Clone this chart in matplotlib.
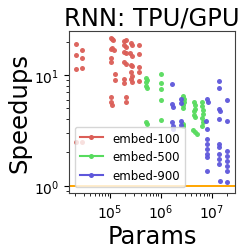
import matplotlib
matplotlib.use("Agg")
import matplotlib.pyplot as plt
from matplotlib.lines import Line2D

title = "RNN: TPU/GPU"
xlabel = "Params"
ylabel = "Speedups"
series_names = ["embed-100", "embed-500", "embed-900"]
colors = [(0.86, 0.37, 0.34), (0.34, 0.86, 0.37), (0.37, 0.34, 0.86)]

# embed-100
e100_x = [2.14e4, 2.14e4, 2.14e4, 2.14e4, 2.77e4, 2.77e4, 2.77e4, 2.77e4,
          1.03e5, 1.10e5, 1.16e5, 1.03e5, 1.10e5, 1.20e5, 1.03e5, 1.06e5, 1.25e5, 1.25e5,
          1.03e5, 1.06e5, 1.10e5,
          1.89e5, 2.07e5, 1.89e5, 2.07e5, 1.89e5, 2.07e5, 1.89e5, 2.07e5, 1.89e5, 1.89e5, 2.07e5, 2.07e5,
          2.55e5, 2.75e5, 2.50e5, 2.75e5, 2.55e5, 2.75e5, 2.55e5, 2.75e5, 2.55e5, 2.65e5,
          3.67e5, 3.67e5, 3.67e5, 3.67e5, 3.67e5]
e100_y = [19.0, 15.3, 11.3, 2.47, 16.9, 14.2, 11.7, 2.47,
          21.5, 21.2, 20.6, 17.2, 17.4, 16.9, 14.2, 13.2, 10.2, 9.0,
          6.4, 5.7, 5.35,
          20.4, 20.8, 18.8, 17.8, 16.0, 15.8, 13.0, 12.7, 9.2, 8.5, 6.3, 5.7,
          19.5, 18.5, 15.8, 14.9, 12.4, 12.0, 10.7, 9.8, 9.3, 8.6,
          18.5, 15.5, 11.8, 10.6, 8.8]

# embed-500
e500_x = [5.1e5, 5.4e5, 5.1e5, 5.4e5, 5.1e5, 5.1e5, 5.4e5,
          9.96e5, 9.96e5, 9.96e5, 9.96e5, 9.96e5,
          2.75e6, 2.85e6, 2.9e6, 2.8e6, 2.75e6, 2.7e6, 2.75e6,
          4.5e6, 4.7e6, 4.8e6, 4.6e6, 4.5e6, 4.7e6, 4.4e6, 4.7e6, 5.1e6,
          6.4e6, 6.6e6, 6.7e6, 6.8e6, 6.6e6, 6.7e6, 6.6e6]
e500_y = [9.5, 9.1, 8.0, 7.6, 8.6, 3.74, 3.61,
          10.2, 8.4, 7.5, 6.0, 3.95,
          6.45, 6.05, 5.7, 5.35, 5.03, 3.6, 3.45,
          5.7, 5.35, 4.93, 4.7, 4.35, 4.17, 3.18, 3.05, 2.93,
          5.7, 5.25, 4.83, 4.44, 4.1, 3.74, 3.45]

# embed-900
e900_x = [1.64e6, 1.64e6, 1.7e6, 1.64e6, 1.7e6, 1.75e6,
          2.45e6, 2.5e6, 2.45e6, 2.55e6,
          8.3e6, 8.6e6, 7.8e6, 8.0e6, 8.1e6, 8.1e6, 8.0e6, 8.2e6, 8.0e6, 8.1e6,
          1.38e7, 1.38e7, 1.40e7, 1.44e7, 1.42e7, 1.38e7, 1.42e7, 1.40e7, 1.42e7, 1.40e7, 1.44e7,
          2.0e7, 2.0e7, 2.0e7, 2.0e7, 2.05e7, 2.0e7, 2.0e7, 2.0e7]
e900_y = [8.3, 5.47, 5.13, 3.76, 3.46, 3.25,
          6.07, 5.6, 3.84, 3.53,
          6.07, 5.7, 3.84, 3.25, 2.64, 2.38, 2.14, 1.93, 1.82, 1.36,
          8.9, 7.6, 4.93, 4.73, 4.0, 2.38, 2.24, 1.93, 1.74, 1.57, 1.10,
          5.89, 3.88, 2.06, 1.86, 1.67, 1.51, 1.36, 1.09]

xs = [e100_x, e500_x, e900_x]
ys = [e100_y, e500_y, e900_y]

fig = plt.figure(figsize=(2.49, 2.51), dpi=100)
ax = fig.add_axes([69/249, 1-194/251, (235-69)/249, (194-32)/251])

for x, y, c in zip(xs, ys, colors):
    ax.plot(x, y, linestyle="none", marker="o", ms=3.6, mew=0, color=c, alpha=0.95)

ax.axhline(1.0, color="orange", lw=1.4)
ax.set_xscale("log")
ax.set_yscale("log")
ax.set_xlim(1.55e4, 2.9e7)
ax.set_ylim(0.86, 25)
ax.set_title(title, fontsize=17.5, pad=5)
ax.set_xlabel(xlabel, fontsize=17.5, labelpad=2)
ax.set_ylabel(ylabel, fontsize=17.5, labelpad=2)
ax.tick_params(labelsize=10)
for s in ax.spines.values():
    s.set_color("0.25")

handles = [Line2D([0], [0], color=c, marker="o", ms=3.6, mew=0, lw=1.5) for c in colors]
ax.legend(handles, series_names, loc="lower left", fontsize=8.5)

fig.savefig("out.png", dpi=100)
